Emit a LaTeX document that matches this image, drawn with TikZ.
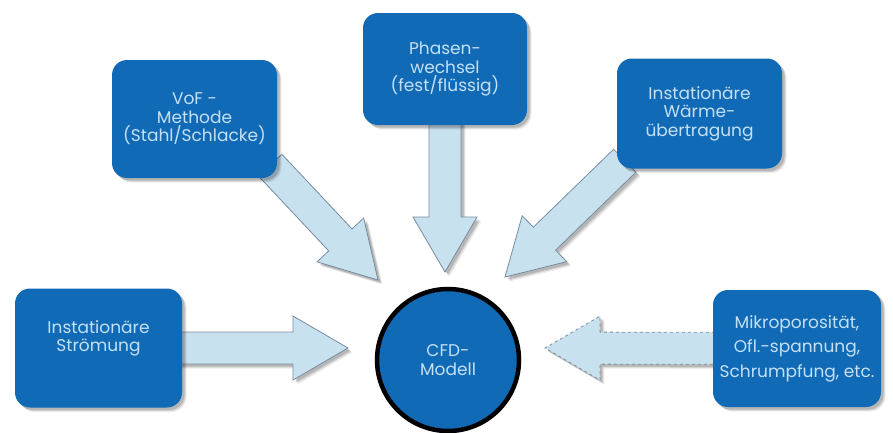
\documentclass[tikz,border=0pt]{standalone}
\usepackage{fontspec}
\setmainfont{Poppins}
\usetikzlibrary{calc,shadows}
\pgfdeclarelayer{back}
\pgfdeclarelayer{bg}
\pgfsetlayers{back,bg,main}
\definecolor{boxblue}{RGB}{17,106,181}
\definecolor{txtblue}{RGB}{196,224,246}
\definecolor{arrfill}{RGB}{200,225,239}
\definecolor{arrline}{RGB}{120,140,158}
\newcommand\shaftw{16pt}
\newcommand\headw{32pt}
\newcommand\headl{55pt}
\newcommand\blockarrow[3][]{%
  \coordinate (ah) at ($(#3)!\headl!(#2)$);
  \filldraw[barrow,#1] ($(#2)!\shaftw!90:(#3)$) -- ($(ah)!\shaftw!90:(#3)$)
    -- ($(ah)!\headw!90:(#3)$) -- (#3) -- ($(ah)!\headw!-90:(#3)$)
    -- ($(ah)!\shaftw!-90:(#3)$) -- ($(#2)!\shaftw!-90:(#3)$) -- cycle;}
\tikzset{
  softshadow/.style={
    general shadow={shadow xshift=4.5pt, shadow yshift=-4.5pt, fill=black, opacity=0.07},
    general shadow={shadow xshift=3.5pt, shadow yshift=-3.5pt, fill=black, opacity=0.10},
    general shadow={shadow xshift=2.5pt, shadow yshift=-2.5pt, fill=black, opacity=0.14}},
  boxtext/.style={text=txtblue, align=center, font=\fontsize{17}{18.5}\selectfont},
  infobox/.style={boxtext, fill=boxblue, rounded corners=15pt, inner sep=1pt, softshadow},
  barrow/.style={fill=arrfill, draw=arrline, line width=0.8pt, line join=miter, softshadow},
  cfd/.style={circle, boxtext, fill=boxblue, draw=black, line width=4.5pt,
    minimum size=142pt, inner sep=0pt}
}
\begin{document}
\begin{tikzpicture}[x=1pt,y=-1pt]
\useasboundingbox (0,0) rectangle (893,432);
\begin{pgfonlayer}{back}
\fill[white] (0,0) rectangle (893,432);
\end{pgfonlayer}
% boxes
\node[infobox, minimum width=167pt, minimum height=119pt] (strom) at (98.5,348)
  {\raisebox{9pt}[\height][\depth]{\begin{tabular}{@{}c@{}}Instationäre\\Strömung\end{tabular}}};
\node[infobox, minimum width=165pt, minimum height=118pt] (vof) at (194.5,119)
  {VoF -\\Methode\\(Stahl/Schlacke)};
\node[infobox, minimum width=164pt, minimum height=112pt] (phase) at (445,69)
  {Phasen-\\wechsel\\(fest/flüssig)};
\node[infobox, minimum width=165pt, minimum height=110pt] (waerme) at (699.5,113.5)
  {Instationäre\\Wärme-\\übertragung};
\node[infobox, minimum width=168pt, minimum height=117pt,
  font=\fontsize{17}{24.5}\selectfont] (mikro) at (797,348.5)
  {Mikroporosität,\\Ofl.-spannung,\\Schrumpfung, etc.};
\node[cfd] (cfd) at (448,360) {CFD-\\Modell};
% arrow tips
\coordinate (tL) at (348,348);
\coordinate (tV) at (378,280);
\coordinate (tP) at (445,272);
\coordinate (tW) at (505,277);
\coordinate (tM) at (545,348);
\coordinate (sL) at ($(strom.east)+(-20,0)$);
\coordinate (sV) at ($(vof.south east)+(-7,-13)$);
\coordinate (sW) at ($(waerme.south west)+(8,-8)$);
\begin{pgfonlayer}{bg}
\blockarrow{sL}{tL}
\blockarrow{sV}{tV}
\blockarrow{phase.center}{tP}
\blockarrow{sW}{tW}
\blockarrow[dashed]{mikro.center}{tM}
\end{pgfonlayer}
\end{tikzpicture}
\end{document}
